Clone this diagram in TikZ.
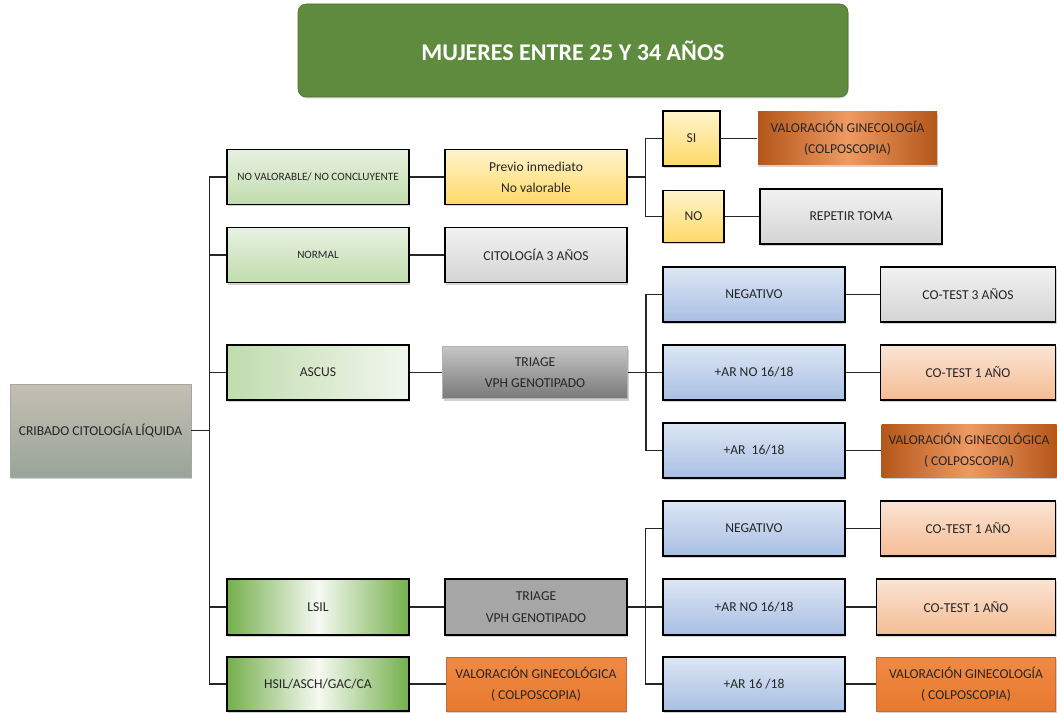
\documentclass[tikz,border=0pt]{standalone}
\usepackage{fontspec}
\setmainfont{Carlito}
\usetikzlibrary{positioning,shadows}

\definecolor{txt}{HTML}{262626}
\definecolor{titlegreen}{HTML}{5E8B3E}
\definecolor{cribtop}{HTML}{C6BFB3}
\definecolor{cribbot}{HTML}{97A598}
\definecolor{lgtop}{HTML}{E8F1E1}
\definecolor{lgbot}{HTML}{C0DCAD}
\definecolor{dgside}{HTML}{74AF4C}
\definecolor{yelltop}{HTML}{FFF4CC}
\definecolor{yellbot}{HTML}{FFD966}
\definecolor{greytop}{HTML}{F2F2F2}
\definecolor{greybot}{HTML}{D4D4D4}
\definecolor{bluetop}{HTML}{DDE6F4}
\definecolor{bluebot}{HTML}{A8BFE3}
\definecolor{peachtop}{HTML}{FBE4D4}
\definecolor{peachbot}{HTML}{F5BC93}
\definecolor{rust}{HTML}{B4561A}
\definecolor{rustmid}{HTML}{EE9A62}
\definecolor{orangetop}{HTML}{F08A44}
\definecolor{orangebot}{HTML}{E8792E}

\begin{document}
\begin{tikzpicture}[x=0.75pt,y=-0.75pt,
    box/.style={draw=black, line width=1.1pt, minimum width=136.5pt, minimum height=41.25pt,
        inner sep=1pt, align=center, text=txt, font=\fontsize{10.2}{16}\selectfont,
        drop shadow={opacity=0.35, shadow xshift=1pt, shadow yshift=-1.5pt}},
    small/.style={font=\fontsize{8.4}{10}\selectfont},
    conn/.style={line width=1.1pt, draw=txt},
    titlebox/.style={rounded corners=6pt, fill=titlegreen, draw=titlegreen!80!black,
        minimum width=412.5pt, minimum height=69.75pt, text=white,
        font=\fontsize{18}{22}\selectfont\bfseries,
        drop shadow={opacity=0.3, shadow xshift=0.5pt, shadow yshift=-1pt}},
    cribbox/.style={box, draw=gray!70, line width=0.6pt, top color=cribtop, bottom color=cribbot,
        minimum width=135.75pt, minimum height=69.75pt},
    palegreen/.style={box, top color=lgtop, bottom color=lgbot},
    ascusgreen/.style={box, left color=lgbot, right color=lgtop!60!white},
    deepgreen/.style={box, left color=dgside, right color=dgside, middle color=lgtop!40!white},
    yellbox/.style={box, top color=yelltop, bottom color=yellbot},
    greybox/.style={box, top color=greytop, bottom color=greybot},
    triagebox/.style={box, draw=gray!60, line width=0.6pt, top color=gray!45, bottom color=gray!95!black},
    flatgrey/.style={box, fill=gray!70},
    bluebox/.style={box, top color=bluetop, bottom color=bluebot},
    peachbox/.style={box, top color=peachtop, bottom color=peachbot},
    rustbox/.style={box, draw=none, left color=rust, right color=rust, middle color=rustmid},
    orangebox/.style={box, draw=orangetop!80!black, line width=0.4pt, top color=orangetop, bottom color=orangebot}
]

\useasboundingbox (0,0) rectangle (1057,713);

% title
\node[titlebox] (title) at (573,50.5) {MUJERES ENTRE 25 Y 34 AÑOS};

% root
\node[cribbox] (crib) at (100.5,430.5) {CRIBADO CITOLOGÍA LÍQUIDA};

% cytology results
\node[palegreen, small] (novalor) at (318,177) {NO VALORABLE/ NO CONCLUYENTE};
\node[palegreen, small] (normal) at (318,255) {NORMAL};
\node[ascusgreen] (ascus) at (318,372.5) {ASCUS};
\node[deepgreen, minimum height=42pt] (lsil) at (318,607) {LSIL};
\node[deepgreen, minimum height=40.5pt] (hsil) at (318,684) {HSIL/ASCH/GAC/CA};

% second column
\node[yellbox] (previo) at (536,177) {Previo inmediato\\No valorable};
\node[greybox] (cito) at (536,255) {CITOLOGÍA 3 AÑOS};
\node[triagebox, minimum width=138.75pt, minimum height=39pt] (triageA) at (535,372.5) {TRIAGE\\VPH GENOTIPADO};
\node[flatgrey, minimum height=42pt] (triageB) at (536,607) {TRIAGE\\VPH GENOTIPADO};
\node[orangebox, minimum width=135pt, minimum height=40.5pt] (valorH) at (536,684) {VALORACIÓN GINECOLÓGICA\\( COLPOSCOPIA)};

% previo branch
\node[yellbox, minimum width=42.75pt] (si) at (691.5,138.5) {SI};
\node[yellbox, minimum width=45.75pt, minimum height=39pt] (no) at (693.5,216.5) {NO};
\node[rustbox, minimum width=134.25pt, minimum height=39.75pt] (valorSi) at (847.5,138.5) {VALORACIÓN GINECOLOGÍA\\(COLPOSCOPIA)};
\node[greybox] (repetir) at (851,216.5) {REPETIR TOMA};

% ascus branch
\node[bluebox] (negA) at (754,294.5) {NEGATIVO};
\node[bluebox] (arnoA) at (754,372.5) {+AR NO 16/18};
\node[bluebox] (arA) at (754,450.5) {+AR\ \ 16/18};
\node[greybox, minimum width=131.25pt] (cotest3) at (968,294.5) {CO-TEST 3 AÑOS};
\node[peachbox, minimum width=131.25pt] (cotest1A) at (968,372.5) {CO-TEST 1 AÑO};
\node[rustbox, minimum width=131.25pt, minimum height=39.75pt] (valorA) at (969,450.5) {VALORACIÓN GINECOLÓGICA\\( COLPOSCOPIA)};

% lsil branch
\node[bluebox] (negB) at (754,528.5) {NEGATIVO};
\node[bluebox, minimum height=42pt] (arnoB) at (754,607) {+AR NO 16/18};
\node[bluebox, minimum height=40.5pt] (arB) at (754,684) {+AR 16 /18};
\node[peachbox, minimum width=131.25pt] (cotest1B) at (968,528.5) {CO-TEST 1 AÑO};
\node[peachbox, minimum width=134.25pt, minimum height=42pt] (cotest1C) at (966,607) {CO-TEST 1 AÑO};
\node[orangebox, minimum width=134.25pt, minimum height=40.5pt] (valorB) at (966,684) {VALORACIÓN GINECOLOGÍA\\( COLPOSCOPIA)};

% connectors
\draw[conn] (crib.east) -- ++(18,0) coordinate (t0);
\foreach \n in {novalor,normal,ascus,lsil,hsil}
    \draw[conn] (t0) |- (\n.west);

\draw[conn] (novalor) -- (previo);
\draw[conn] (normal) -- (cito);
\draw[conn] (ascus) -- (triageA);
\draw[conn] (lsil) -- (triageB);
\draw[conn] (hsil) -- (valorH);

\draw[conn] (previo.east) -- ++(18,0) coordinate (t1);
\draw[conn] (t1) |- (si.west);
\draw[conn] (t1) |- (no.west);
\draw[conn] (si) -- (valorSi);
\draw[conn] (no) -- (repetir);

\draw[conn] (triageA.east) -- ++(18,0) coordinate (t2);
\foreach \n in {negA,arnoA,arA}
    \draw[conn] (t2) |- (\n.west);
\draw[conn] (negA) -- (cotest3);
\draw[conn] (arnoA) -- (cotest1A);
\draw[conn] (arA) -- (valorA);

\draw[conn] (triageB.east) -- ++(18,0) coordinate (t3);
\foreach \n in {negB,arnoB,arB}
    \draw[conn] (t3) |- (\n.west);
\draw[conn] (negB) -- (cotest1B);
\draw[conn] (arnoB) -- (cotest1C);
\draw[conn] (arB) -- (valorB);

\end{tikzpicture}
\end{document}
